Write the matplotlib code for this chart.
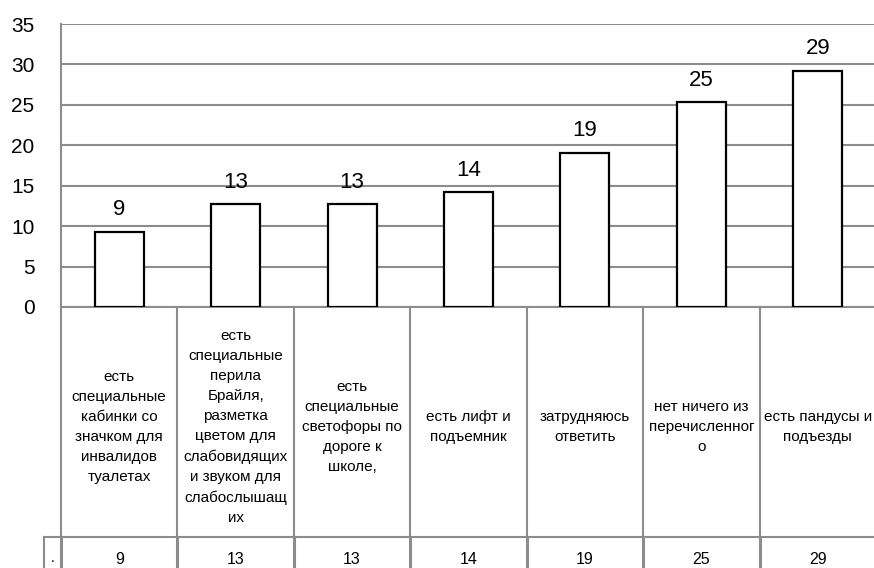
import matplotlib
matplotlib.use("Agg")
import matplotlib.pyplot as plt

plt.rcParams['font.family'] = ['Liberation Sans', 'DejaVu Sans']

# Data
categories = [
    "есть\nспециальные\nкабинки со\nзначком для\nинвалидов\nтуалетах",
    "есть\nспециальные\nперила\nБрайля,\nразметка\nцветом для\nслабовидящих\nи звуком для\nслабослышащ\nих",
    "есть\nспециальные\nсветофоры по\nдороге к\nшколе,",
    "есть лифт и\nподъемник",
    "затрудняюсь\nответить",
    "нет ничего из\nперечисленног\nо",
    "есть пандусы и\nподъезды",
]
values = [9.3, 12.7, 12.7, 14.2, 19.1, 25.3, 29.2]
yticks = [0, 5, 10, 15, 20, 25, 30, 35]

W, H = 874, 568
GRID = '#8c8c8c'

# plot area in pixels
left_px, right_px, top_px, bottom_px = 61, 876, 24, 307

fig = plt.figure(figsize=(W / 100, H / 100), dpi=100)
ax = fig.add_axes([left_px / W, 1 - bottom_px / H,
                   (right_px - left_px) / W, (bottom_px - top_px) / H])

x = list(range(len(values)))
ax.set_xlim(-0.5, len(values) - 0.5)
ax.set_ylim(0, 35)
ax.set_yticks(yticks)
ax.set_xticks([])
ax.yaxis.grid(True, color=GRID, linewidth=1.5)
ax.set_axisbelow(True)
ax.tick_params(axis='y', length=0, pad=19, labelsize=15)
for side in ['top', 'right']:
    ax.spines[side].set_visible(False)
for side in ['left', 'bottom']:
    ax.spines[side].set_color(GRID)
    ax.spines[side].set_linewidth(1.5)

ax.bar(x, values, width=0.42, color='white', edgecolor='black', linewidth=1.6, zorder=3)
for xi, v in zip(x, values):
    ax.annotate(f"{v:.0f}", (xi, v), xytext=(0, 12), textcoords='offset points',
                ha='center', va='baseline', fontsize=16)

# data table under the axis
trans = ax.get_xaxis_transform()
def ay(py):
    return (bottom_px - py) / (bottom_px - top_px)

row_split = 537
key_w = 17 / ((right_px - left_px) / len(values))
for b in [i - 0.5 for i in range(len(values) + 1)]:
    ax.plot([b, b], [ay(bottom_px), ay(row_split)], transform=trans, color=GRID,
            lw=1.5, clip_on=False)
    ax.plot([b, b], [ay(row_split), ay(H + 5)], transform=trans, color=GRID,
            lw=2.2, clip_on=False)
ax.plot([-0.5 - key_w, len(values) - 0.5], [ay(row_split)] * 2, transform=trans,
        color=GRID, lw=1.5, clip_on=False)
ax.plot([-0.5 - key_w] * 2, [ay(row_split), ay(H + 5)], transform=trans,
        color=GRID, lw=1.5, clip_on=False)
ax.text(-0.5 - key_w / 2, ay(558), ".", transform=trans, ha='center', va='center',
        fontsize=10)

for xi, cat, v in zip(x, categories, values):
    ax.text(xi, ay(427), cat, transform=trans, ha='center', va='center',
            multialignment='center', fontsize=11, linespacing=1.55)
    ax.text(xi, ay(559), f"{v:.0f}", transform=trans, ha='center', va='center',
            fontsize=11.5)

fig.savefig("out.png", dpi=100)
